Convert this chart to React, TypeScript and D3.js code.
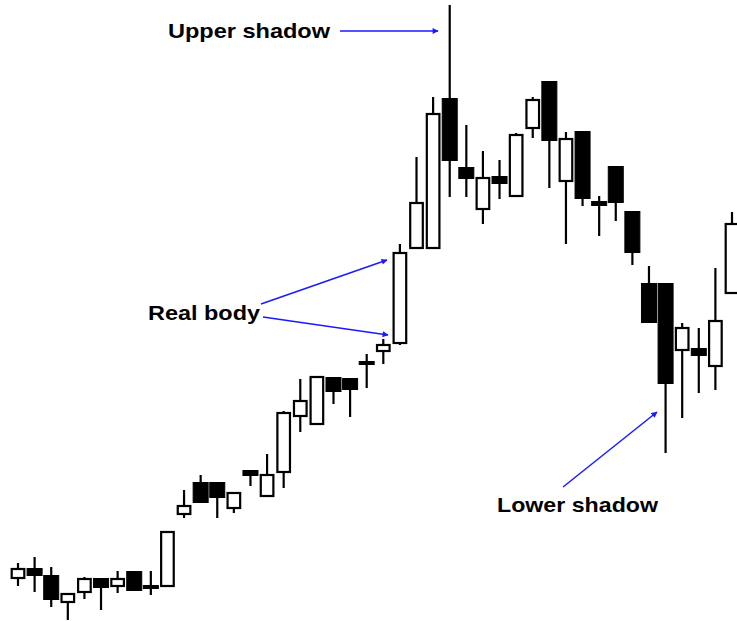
import React from 'react'
import * as d3 from 'd3'

// candle values (arbitrary price units)
const opens = [43, 52, 45, 19, 29, 42, 35, 49, 35, 35, 107, 138, 138, 113, 150, 125, 149, 205, 197, 243, 242, 259, 270, 278, 373, 373, 522, 453, 412, 444, 425, 493, 539, 440, 489, 419, 454, 409, 337, 337, 271, 272, 255, 328]
const highs = [58, 64, 54, 27, 44, 42, 50, 49, 50, 89, 131, 146, 138, 129, 150, 167, 210, 242, 244, 243, 242, 267, 282, 377, 464, 524, 616, 496, 470, 461, 488, 524, 539, 489, 489, 425, 454, 409, 355, 337, 298, 293, 353, 409]
const lows = [35, 29, 14, 1, 22, 11, 28, 30, 26, 35, 103, 118, 103, 108, 135, 125, 133, 189, 197, 217, 204, 233, 257, 276, 373, 373, 424, 424, 397, 422, 425, 483, 433, 377, 415, 385, 400, 356, 298, 168, 203, 228, 231, 328]
const closes = [52, 46, 22, 27, 42, 34, 42, 31, 33, 89, 115, 119, 124, 128, 146, 146, 208, 220, 244, 230, 232, 258, 276, 368, 418, 507, 461, 443, 443, 438, 486, 521, 481, 482, 423, 416, 419, 369, 299, 238, 293, 266, 300, 397]

const labels = [
  { text: 'Upper shadow', x: 168, y: 38, len: 162 },
  { text: 'Real body', x: 148, y: 320, len: 112 },
  { text: 'Lower shadow', x: 497, y: 512, len: 161 },
]

const arrows = [
  [340, 31, 438, 31],
  [261, 304, 387, 260],
  [263, 317, 388, 335],
  [563, 487, 657, 412],
]

const W = 737
const H = 621

export default function App() {
  const idx = d3.range(opens.length)
  const x = d3.scaleLinear().domain([0, opens.length - 1]).range([18, 732])
  const y = d3.scaleLinear().domain([0, 621]).range([621, 0])

  return (
    <svg width={W} height={H} style={{ position: 'absolute', left: 0, top: 0, background: '#fff' }}>
      <defs>
        <marker id="head" viewBox="0 0 10 10" refX="9" refY="5" markerWidth="7" markerHeight="6" orient="auto" markerUnits="userSpaceOnUse">
          <path d="M0,0 L10,5 L0,10 z" fill="#1a1aff" />
        </marker>
      </defs>
      {idx.map(i => {
        const cx = x(i)
        const up = closes[i] >= opens[i]
        const top = y(Math.max(opens[i], closes[i]))
        const bot = y(Math.min(opens[i], closes[i]))
        const h = Math.max(bot - top, 2)
        return (
          <g key={i}>
            <line x1={cx} x2={cx} y1={y(highs[i])} y2={y(lows[i])} stroke="#000" strokeWidth={2.2} />
            {up ? (
              <rect x={cx - 6.3} y={top} width={12.6} height={h} fill="#fff" stroke="#000" strokeWidth={2.2} />
            ) : (
              <rect x={cx - 7.5} y={top - 0.5} width={15} height={h + 1} fill="#000" stroke="#000" strokeWidth={1} />
            )}
          </g>
        )
      })}
      {arrows.map((a, i) => (
        <line key={i} x1={a[0]} y1={a[1]} x2={a[2]} y2={a[3]} stroke="#1a1aff" strokeWidth={1.5} markerEnd="url(#head)" />
      ))}
      {labels.map(l => (
        <text key={l.text} x={l.x} y={l.y} textLength={l.len} lengthAdjust="spacingAndGlyphs"
          fontFamily="'Liberation Sans', Arial, sans-serif" fontWeight="bold" fontSize={21} fill="#000">
          {l.text}
        </text>
      ))}
    </svg>
  )
}
